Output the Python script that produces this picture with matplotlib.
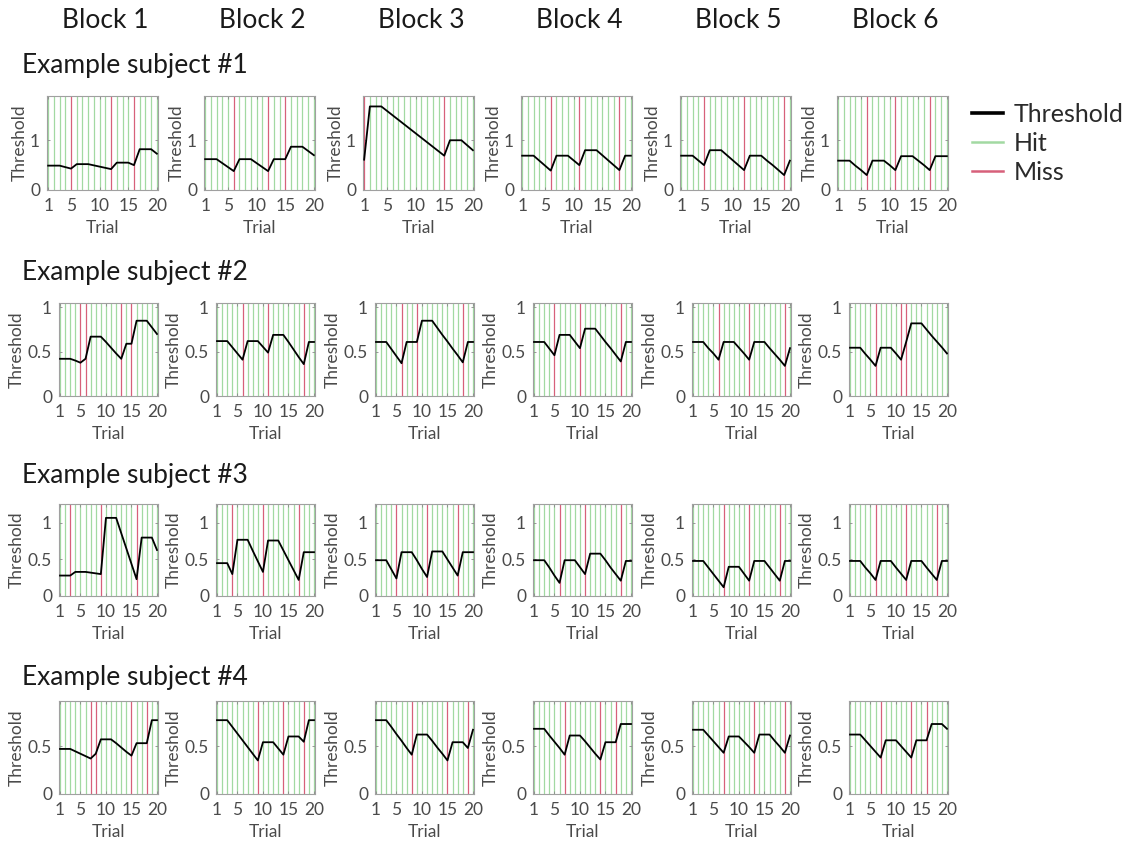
import matplotlib
matplotlib.use("Agg")
import matplotlib.pyplot as plt
from matplotlib.lines import Line2D

plt.rcParams['font.family'] = ['Lato', 'DejaVu Sans']

trials = list(range(1, 21))
blocks = ["Block 1", "Block 2", "Block 3", "Block 4", "Block 5", "Block 6"]
subjects = ["Example subject #1", "Example subject #2",
            "Example subject #3", "Example subject #4"]

# Threshold per trial, one list per block
thr_s1 = [
    [0.49, 0.49, 0.49, 0.46, 0.43, 0.52, 0.52, 0.52, 0.495, 0.47, 0.445, 0.42, 0.55, 0.55, 0.55, 0.50, 0.82, 0.82, 0.82, 0.73],
    [0.62, 0.62, 0.62, 0.54, 0.46, 0.38, 0.62, 0.62, 0.62, 0.54, 0.46, 0.38, 0.62, 0.62, 0.62, 0.87, 0.87, 0.87, 0.785, 0.70],
    [0.61, 1.68, 1.68, 1.68, 1.59, 1.50, 1.41, 1.32, 1.23, 1.14, 1.05, 0.96, 0.87, 0.78, 0.69, 1.00, 1.00, 1.00, 0.90, 0.80],
    [0.69, 0.69, 0.69, 0.59, 0.49, 0.39, 0.69, 0.69, 0.69, 0.595, 0.50, 0.80, 0.80, 0.80, 0.70, 0.60, 0.50, 0.40, 0.69, 0.69],
    [0.69, 0.69, 0.69, 0.595, 0.50, 0.80, 0.80, 0.80, 0.70, 0.60, 0.50, 0.40, 0.69, 0.69, 0.69, 0.59, 0.50, 0.40, 0.30, 0.59],
    [0.59, 0.59, 0.59, 0.49, 0.40, 0.30, 0.59, 0.59, 0.59, 0.50, 0.40, 0.68, 0.68, 0.68, 0.59, 0.50, 0.40, 0.68, 0.68, 0.68],
]
thr_s2 = [
    [0.42, 0.42, 0.42, 0.40, 0.376, 0.42, 0.67, 0.67, 0.67, 0.61, 0.545, 0.48, 0.42, 0.59, 0.59, 0.85, 0.85, 0.85, 0.775, 0.70],
    [0.62, 0.62, 0.62, 0.55, 0.48, 0.41, 0.62, 0.62, 0.62, 0.555, 0.49, 0.69, 0.69, 0.69, 0.61, 0.525, 0.44, 0.36, 0.61, 0.61],
    [0.61, 0.61, 0.61, 0.53, 0.45, 0.37, 0.61, 0.61, 0.61, 0.85, 0.85, 0.85, 0.77, 0.69, 0.615, 0.535, 0.46, 0.38, 0.61, 0.61],
    [0.61, 0.61, 0.61, 0.535, 0.46, 0.69, 0.69, 0.69, 0.615, 0.54, 0.76, 0.76, 0.76, 0.685, 0.61, 0.54, 0.465, 0.39, 0.61, 0.61],
    [0.61, 0.61, 0.61, 0.54, 0.48, 0.41, 0.61, 0.61, 0.61, 0.545, 0.48, 0.41, 0.61, 0.61, 0.61, 0.54, 0.475, 0.41, 0.34, 0.54],
    [0.545, 0.545, 0.545, 0.475, 0.41, 0.34, 0.545, 0.545, 0.545, 0.48, 0.41, 0.61, 0.82, 0.82, 0.82, 0.75, 0.68, 0.615, 0.55, 0.48],
]
thr_s3 = [
    [0.28, 0.28, 0.28, 0.33, 0.33, 0.33, 0.32, 0.31, 0.30, 1.07, 1.07, 1.07, 0.86, 0.65, 0.44, 0.23, 0.80, 0.80, 0.80, 0.63],
    [0.45, 0.45, 0.45, 0.30, 0.77, 0.77, 0.77, 0.62, 0.475, 0.33, 0.76, 0.76, 0.76, 0.625, 0.49, 0.355, 0.22, 0.60, 0.60, 0.60],
    [0.49, 0.49, 0.49, 0.365, 0.24, 0.60, 0.60, 0.60, 0.49, 0.37, 0.26, 0.61, 0.61, 0.61, 0.50, 0.39, 0.28, 0.60, 0.60, 0.60],
    [0.49, 0.49, 0.49, 0.39, 0.28, 0.18, 0.49, 0.49, 0.49, 0.395, 0.30, 0.58, 0.58, 0.58, 0.49, 0.39, 0.30, 0.21, 0.48, 0.48],
    [0.48, 0.48, 0.48, 0.39, 0.30, 0.21, 0.12, 0.40, 0.40, 0.40, 0.305, 0.21, 0.48, 0.48, 0.48, 0.39, 0.30, 0.21, 0.48, 0.48],
    [0.48, 0.48, 0.48, 0.39, 0.31, 0.22, 0.48, 0.48, 0.48, 0.39, 0.305, 0.22, 0.48, 0.48, 0.48, 0.39, 0.305, 0.22, 0.48, 0.48],
]
thr_s4 = [
    [0.47, 0.47, 0.47, 0.445, 0.42, 0.395, 0.37, 0.42, 0.57, 0.57, 0.57, 0.53, 0.485, 0.44, 0.40, 0.53, 0.53, 0.53, 0.77, 0.77],
    [0.77, 0.77, 0.77, 0.70, 0.63, 0.56, 0.49, 0.42, 0.35, 0.54, 0.54, 0.54, 0.475, 0.41, 0.60, 0.60, 0.60, 0.545, 0.77, 0.77],
    [0.77, 0.77, 0.77, 0.70, 0.625, 0.555, 0.48, 0.41, 0.62, 0.62, 0.62, 0.555, 0.485, 0.42, 0.35, 0.54, 0.54, 0.54, 0.48, 0.67],
    [0.68, 0.68, 0.68, 0.61, 0.545, 0.48, 0.41, 0.61, 0.61, 0.61, 0.55, 0.485, 0.42, 0.36, 0.54, 0.54, 0.54, 0.73, 0.73, 0.73],
    [0.67, 0.67, 0.67, 0.61, 0.55, 0.49, 0.43, 0.60, 0.60, 0.60, 0.545, 0.49, 0.43, 0.62, 0.62, 0.62, 0.555, 0.495, 0.43, 0.61],
    [0.62, 0.62, 0.62, 0.56, 0.50, 0.44, 0.38, 0.56, 0.56, 0.56, 0.50, 0.44, 0.38, 0.56, 0.56, 0.56, 0.73, 0.73, 0.73, 0.68],
]

# Trials answered wrongly (all others are hits)
miss_s1 = [[5, 12, 16], [6, 12, 15], [1, 15], [6, 11, 18], [5, 12, 19], [6, 11, 17]]
miss_s2 = [[5, 6, 13, 15], [6, 11, 18], [6, 9, 18], [5, 10, 18], [6, 12, 19], [6, 11, 12]]
miss_s3 = [[3, 9, 16], [4, 10, 17], [5, 11, 17], [6, 11, 18], [7, 12, 18], [6, 12, 18]]
miss_s4 = [[7, 8, 15, 18], [9, 14, 18], [8, 15, 19], [7, 14, 17], [7, 13, 19], [7, 13, 16]]

thresholds = [thr_s1, thr_s2, thr_s3, thr_s4]
misses = [miss_s1, miss_s2, miss_s3, miss_s4]

y_max = [1.89, 1.05, 1.26, 0.97]
y_ticks = [[0, 1], [0, 0.5, 1], [0, 0.5, 1], [0, 0.5]]
y_ticklabels = [["0", "1"], ["0", "0.5", "1"], ["0", "0.5", "1"], ["0", "0.5"]]

HIT = "#a2d9a2"
MISS = "#d7607a"
W, H = 1131, 843

fig = plt.figure(figsize=(W / 100, H / 100), dpi=100)

row_tops = [96, 303, 504, 701]
row_bottoms = [190, 396, 596, 794]
col_rights = [158, 315, 474, 632, 791, 948]

for r in range(4):
    width = 111 if r == 0 else 99
    for c in range(6):
        left = col_rights[c] - width
        ax = fig.add_axes([left / W, 1 - row_bottoms[r] / H,
                           width / W, (row_bottoms[r] - row_tops[r]) / H])
        miss_set = misses[r][c]
        for t in trials:
            is_miss = t in miss_set
            ax.axvline(t, color=MISS if is_miss else HIT, lw=0.9,
                       zorder=2 if is_miss else 1)
        ax.plot(trials, thresholds[r][c], color="black", lw=1.3, zorder=3)
        ax.set_xlim(0.8, 20.2)
        ax.set_ylim(0, y_max[r])
        ax.set_xticks([1, 5, 10, 15, 20])
        ax.set_yticks(y_ticks[r])
        ax.set_yticklabels(y_ticklabels[r])
        ax.tick_params(direction="in", length=2.5, width=0.6, color="#8a8a8a",
                       labelsize=12.5, labelcolor="#4a4a4a", top=True, right=True)
        ax.tick_params(axis="x", pad=6)
        ax.tick_params(axis="y", pad=5)
        for s in ax.spines.values():
            s.set_color("#a0a0a0")
            s.set_linewidth(0.8)
        ax.set_xlabel("Trial", fontsize=12.5, color="#4a4a4a", labelpad=4)
        ax.set_ylabel("Threshold", fontsize=12.5, color="#4a4a4a", labelpad=2)

# Column headers
for c, name in enumerate(blocks):
    cx = col_rights[c] - 53
    fig.text(cx / W, 1 - 20 / H, name, fontsize=19, ha="center", va="center",
             color="#1a1a1a")

# Row headers
row_title_y = [65, 272, 476, 677]
for r, name in enumerate(subjects):
    fig.text(22 / W, 1 - row_title_y[r] / H, name, fontsize=19, ha="left",
             va="center", color="#1a1a1a")

handles = [Line2D([], [], color="black", lw=2.6),
           Line2D([], [], color=HIT, lw=1.8),
           Line2D([], [], color=MISS, lw=1.8)]
fig.legend(handles, ["Threshold", "Hit", "Miss"], loc="upper left",
           bbox_to_anchor=(972 / W, 1 - 103 / H), frameon=False, fontsize=18,
           handlelength=1.25, handletextpad=0.4, labelspacing=0.24,
           borderaxespad=0, borderpad=0, labelcolor="#2a2a2a")

fig.savefig("out.png", dpi=100, facecolor="white")
